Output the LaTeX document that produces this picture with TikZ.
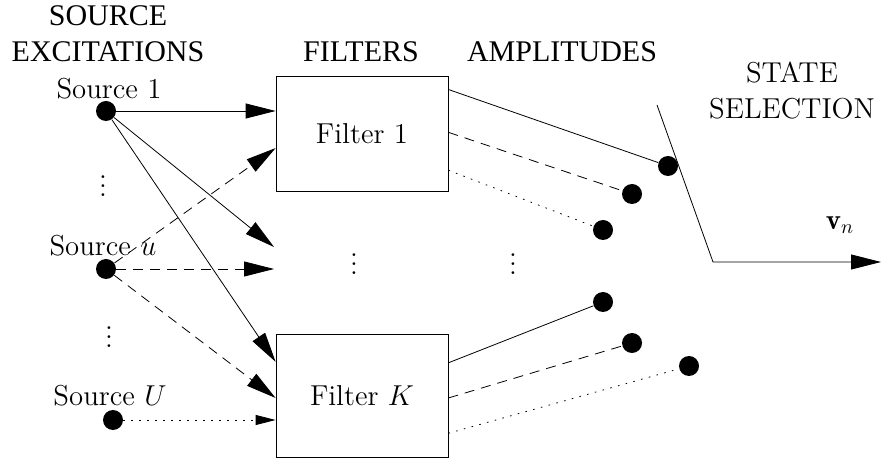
\documentclass[tikz,border=0pt]{standalone}
\usepackage{amsmath}
\usepackage{fontspec}
\newfontfamily\headfont{Liberation Serif}
\usetikzlibrary{calc,positioning,arrows.meta}
\newcommand\colvdots{\vbox{\baselineskip4.7pt\lineskiplimit0pt\hbox{.}\hbox{.}\hbox{.}}}

\begin{document}
\begin{tikzpicture}[x=25pt,y=25pt,font=\Large,
    head/.style={font=\headfont\fontsize{15}{18}\selectfont,align=center},
    dot/.style={circle,fill,inner sep=0pt,minimum size=10pt},
    filterbox/.style={draw,minimum width=86pt,minimum height=57.5pt},
    big/.style={-{Triangle[length=15pt,width=7.5pt]}},
    small/.style={-{Triangle[length=10pt,width=5pt]}},
    dash5/.style={dash pattern=on 5pt off 3.5pt},
    dot4/.style={dash pattern=on 0.8pt off 3.2pt}]
        \useasboundingbox (0,0) rectangle (17.64,9.2);
        \node[head] (hsrc) at (2.16,8.52) {SOURCE\\EXCITATIONS};
        \node[head] (hfil) at (7.22,8.16) {FILTERS};
        \node[head] (hamp) at (11.24,8.16) {AMPLITUDES};
        \node[align=center] (hsel) at (15.84,7.38) {STATE\\SELECTION};
        \node[dot] (src1) at (2.12,6.98) {};
        \node[dot] (srcu) at (2.12,3.82) {};
        \node[dot] (srcU) at (2.26,0.8) {};
        \node (lab1) at (2.18,7.42) {Source 1};
        \node (labu) at (2.06,4.28) {Source $u$};
        \node (labU) at (2.2,1.28) {Source $U$};
        \foreach \n/\x/\y in {vs1/2.06/5.26, vs2/2.18/2.24, vf/7.08/3.7, va/10.26/3.7}
            \node[anchor=base,inner sep=0pt] (\n) at (\x,\y) {\colvdots};
        \node[filterbox] (f1) at (7.24,6.53) {Filter 1};
        \node[filterbox,minimum height=61.5pt] (fK) at (7.24,1.29) {Filter $K$};
        \coordinate (mid1) at (5.48,4.26);
        \coordinate (midu) at (5.48,3.82);
        \draw[big] (src1) -- (src1 -| f1.west);
        \draw[big] (src1) -- (mid1);
        \draw[big] (src1) -- ($(fK.north west)!0.228!(fK.south west)$);
        \draw[big,dash5] (srcu) -- ($(f1.north west)!0.626!(f1.south west)$);
        \draw[big,dash5] (srcu) -- (midu);
        \draw[big,dash5] (srcu) -- ($(fK.north west)!0.52!(fK.south west)$);
        \draw[small,dot4] (srcU) -- (srcU -| fK.west);
        \foreach \n/\x/\y in {a11/13.36/5.88, a12/12.64/5.32, a13/12.06/4.6, aK1/12.06/3.16, aK2/12.64/2.34, aK3/13.78/1.88}
            \node[dot] (\n) at (\x,\y) {};
        \foreach \b/\p/\n/\s in {f1/0.12/a11/solid, f1/0.49/a12/dash5, f1/0.817/a13/dot4, fK/0.236/aK1/solid, fK/0.52/aK2/dash5, fK/0.805/aK3/dot4}
            \draw[\s] ($(\b.north east)!\p!(\b.south east)$) -- (\n);
        \coordinate (swtop) at (13.14,7.1);
        \coordinate (swbot) at (14.26,3.96);
        \coordinate (vout) at (17.62,3.96);
        \draw[big] (swtop) -- (swbot) -- (vout);
        \node (vn) at (16.8,4.7) {$\mathbf{v}_n$};
    \end{tikzpicture}
\end{document}
